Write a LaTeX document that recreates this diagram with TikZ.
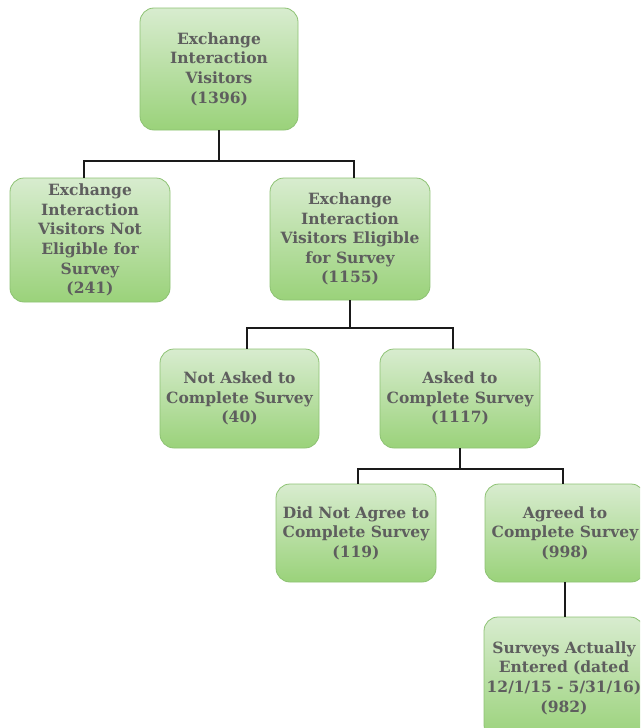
\documentclass[tikz,border=0pt]{standalone}
\usepackage{fontspec}
\setmainfont{DejaVu Serif}
\definecolor{txtgray}{HTML}{5E5E5E}
\definecolor{gtop}{HTML}{D8ECCF}
\definecolor{gbot}{HTML}{9AD27A}
\definecolor{gborder}{HTML}{8DC273}
\definecolor{linec}{HTML}{1A1A1A}
\begin{document}
\begin{tikzpicture}[x=1pt,y=-1pt,
  box/.style={draw=gborder, line width=0.8pt, rounded corners=14pt,
    top color=gtop, bottom color=gbot, inner sep=0pt,
    text=txtgray, align=center,
    font=\fontsize{15.5}{19.6}\selectfont\bfseries},
  conn/.style={draw=linec, line width=2pt}]
\useasboundingbox (0,0) rectangle (640,728);
\begin{scope}
\clip (0,0) rectangle (640,728);
\node[box, minimum width=158pt, minimum height=122pt] (A) at (219,69) {Exchange\\Interaction\\Visitors\\(1396)};
\node[box, minimum width=160pt, minimum height=124pt] (B) at (90,240) {Exchange\\Interaction\\Visitors Not\\Eligible for\\Survey\\(241)};
\node[box, minimum width=160pt, minimum height=122pt] (C) at (350,239) {Exchange\\Interaction\\Visitors Eligible\\for Survey\\(1155)};
\node[box, minimum width=159pt, minimum height=99pt] (D) at (239.5,398.5) {Not Asked to\\Complete Survey\\(40)};
\node[box, minimum width=160pt, minimum height=99pt] (E) at (460,398.5) {Asked to\\Complete Survey\\(1117)};
\node[box, minimum width=160pt, minimum height=98pt] (F) at (356,533) {Did Not Agree to\\Complete Survey\\(119)};
\node[box, minimum width=160pt, minimum height=98pt] (G) at (565,533) {Agreed to\\Complete Survey\\(998)};
\node[box, minimum width=160pt, minimum height=122pt, text width=158pt] (H) at (564,678) {Surveys Actually\\Entered (dated\\12/1/15 - 5/31/16)\\(982)};
\end{scope}
% connectors
\coordinate (j1) at (219,161);
\coordinate (j2) at (350,328);
\coordinate (j3) at (460,469);
\draw[conn] (A.south) -- (j1);
\draw[conn] (j1) -- (84,161) -- (84,0 |- B.north);
\draw[conn] (j1) -- (354,161) -- (354,0 |- C.north);
\draw[conn] (C.south) -- (j2);
\draw[conn] (j2) -- (247,328) -- (247,0 |- D.north);
\draw[conn] (j2) -- (453,328) -- (453,0 |- E.north);
\draw[conn] (E.south) -- (j3);
\draw[conn] (j3) -- (358,469) -- (358,0 |- F.north);
\draw[conn] (j3) -- (563,469) -- (563,0 |- G.north);
\draw[conn] (565,0 |- G.south) -- (565,0 |- H.north);
\end{tikzpicture}
\end{document}
